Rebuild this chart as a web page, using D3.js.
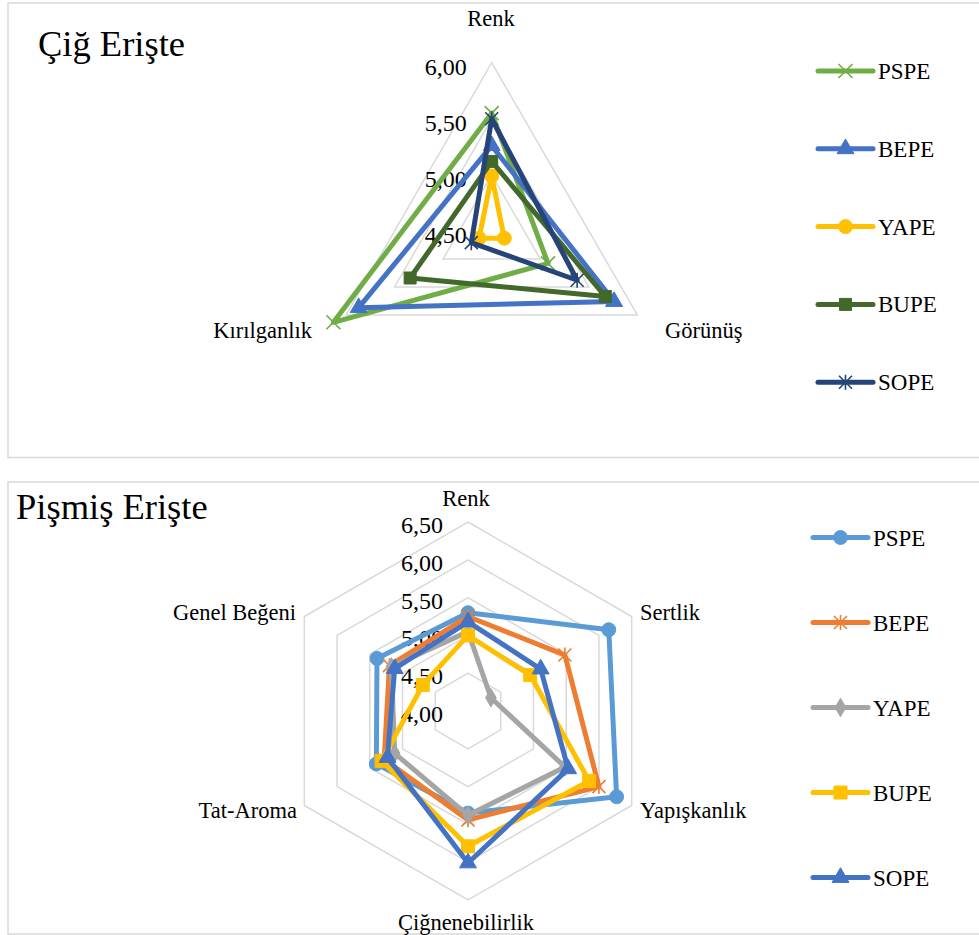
<!DOCTYPE html>
<html><head><meta charset="utf-8">
<script src="https://cdn.jsdelivr.net/npm/d3@7"></script>
<style>body{margin:0;background:#fff}svg{display:block}text{font-family:"Liberation Serif","Times New Roman",serif;fill:#000}</style>
</head><body>
<script>
// ---- Top chart: Çiğ Erişte ----
const rawTitle = "Çiğ Erişte";
const rawAxes = ["Renk", "Görünüş", "Kırılganlık"];
const rawSeries = ["PSPE", "BEPE", "YAPE", "BUPE", "SOPE"];
const rawPSPE = [5.55, 5.08, 6.13];
const rawBEPE = [5.26, 5.76, 5.87];
const rawYAPE = [4.99, 4.63, 4.63];
const rawBUPE = [5.12, 5.67, 5.34];
const rawSOPE = [5.50, 5.38, 4.71];
const rawTicks = [4.50, 5.00, 5.50, 6.00];

// ---- Bottom chart: Pişmiş Erişte ----
const cookTitle = "Pişmiş Erişte";
const cookAxes = ["Renk", "Sertlik", "Yapışkanlık", "Çiğnenebilirlik", "Tat-Aroma", "Genel Beğeni"];
const cookSeries = ["PSPE", "BEPE", "YAPE", "BUPE", "SOPE"];
const cookPSPE = [5.30, 6.15, 6.27, 5.35, 5.40, 5.39];
const cookBEPE = [5.25, 5.48, 6.00, 5.44, 5.28, 5.20];
const cookYAPE = [5.05, 4.35, 5.48, 5.38, 5.12, 5.17];
const cookBUPE = [5.00, 4.95, 5.85, 5.79, 5.32, 4.69];
const cookSOPE = [5.18, 5.11, 5.53, 6.01, 5.23, 5.12];
const cookTicks = [4.00, 4.50, 5.00, 5.50, 6.00, 6.50];

const W = 979, H = 935;
const svg = d3.select("body").append("svg").attr("width", W).attr("height", H);
const gridCol = "#d9d9d9";
const fmt = v => v.toFixed(2).replace(".", ",");

function markerPath(type, s) {
  const h = s / 2;
  if (type === "x") return `M${-h},${-h}L${h},${h}M${-h},${h}L${h},${-h}`;
  if (type === "star") return `M${-h},${-h}L${h},${h}M${-h},${h}L${h},${-h}M0,${-h * 1.15}L0,${h * 1.15}`;
  const sym = {circle: d3.symbolCircle, square: d3.symbolSquare, triangle: d3.symbolTriangle, diamond: d3.symbolDiamond}[type];
  return d3.symbol().type(sym).size(s * s * (type === "circle" ? 0.78 : type === "triangle" ? 0.55 : type === "diamond" ? 0.5 : 1))();
}
function drawMarker(g, type, color, s, x, y) {
  const open = type === "x" || type === "star";
  g.append("path").attr("d", markerPath(type, s))
    .attr("transform", `translate(${x},${y})`)
    .attr("fill", open ? "none" : color)
    .attr("stroke", color).attr("stroke-width", open ? 1.6 : 1);
}

function radar(opt) {
  const g = svg.append("g");
  g.append("rect").attr("x", opt.panel[0]).attr("y", opt.panel[1]).attr("width", opt.panel[2]).attr("height", opt.panel[3])
    .attr("fill", "none").attr("stroke", gridCol).attr("stroke-width", 1.5);
  g.append("text").attr("x", opt.titleX).attr("y", opt.titleY).attr("font-size", opt.titleSize).text(opt.title);

  const n = opt.axes.length;
  const r = d3.scaleLinear().domain([opt.ticks[0], opt.ticks[opt.ticks.length - 1]]).range([0, opt.R]);
  const ang = d3.scaleLinear().domain([0, n]).range([0, 2 * Math.PI]);
  const cg = g.append("g").attr("transform", `translate(${opt.cx},${opt.cy})`);
  const ringLine = d3.lineRadial().angle((d, i) => ang(i)).radius(d => r(d)).curve(d3.curveLinearClosed);

  opt.ticks.slice(1).forEach(t => {
    cg.append("path").attr("d", ringLine(d3.range(n).map(() => t)))
      .attr("fill", "none").attr("stroke", gridCol).attr("stroke-width", 1.5);
  });
  opt.ticks.forEach(t => {
    cg.append("text").attr("x", opt.tickX).attr("y", -r(t) + opt.tickDy)
      .attr("text-anchor", "end").attr("font-size", opt.tickSize).text(fmt(t));
  });
  opt.series.forEach((s, si) => {
    const vals = opt.values[si];
    cg.append("path").attr("d", ringLine(vals)).attr("fill", "none")
      .attr("stroke", opt.colors[si]).attr("stroke-width", opt.lw).attr("stroke-linejoin", "round");
    vals.forEach((v, i) => {
      const a = ang(i);
      drawMarker(cg, opt.markers[si], opt.colors[si], opt.msize[si], r(v) * Math.sin(a), -r(v) * Math.cos(a));
    });
  });
  opt.axes.forEach((a, i) => {
    const p = opt.labelPos[i];
    g.append("text").attr("x", p[0]).attr("y", p[1]).attr("text-anchor", p[2])
      .attr("font-size", opt.labelSize).text(a);
  });
  opt.series.forEach((s, si) => {
    const y = opt.legY0 + si * opt.legStep;
    g.append("line").attr("x1", opt.legX0).attr("x2", opt.legX1).attr("y1", y).attr("y2", y)
      .attr("stroke", opt.colors[si]).attr("stroke-width", opt.lw).attr("stroke-linecap", "round");
    drawMarker(g, opt.markers[si], opt.colors[si], opt.msize[si], (opt.legX0 + opt.legX1) / 2, y);
    g.append("text").attr("x", opt.legX1 + 5).attr("y", y + 8).attr("font-size", opt.legSize).text(s);
  });
}

radar({
  panel: [8, 3, 1000, 454.5], title: rawTitle, titleX: 38, titleY: 56, titleSize: 36.5,
  axes: rawAxes, series: rawSeries, values: [rawPSPE, rawBEPE, rawYAPE, rawBUPE, rawSOPE],
  ticks: rawTicks, cx: 491.7, cy: 230.9, R: 168.2,
  colors: ["#70ad47", "#4472c4", "#ffc000", "#43682b", "#264478"],
  markers: ["x", "triangle", "circle", "square", "star"], msize: [14, 15, 14, 12, 13],
  lw: 5, tickX: -25, tickDy: 12, tickSize: 24, labelSize: 22.5,
  labelPos: [[491, 26, "middle"], [665, 338, "start"], [312, 338, "end"]],
  legX0: 818, legX1: 873, legY0: 71, legStep: 77.8, legSize: 23
});

radar({
  panel: [8, 482, 1000, 452], title: cookTitle, titleX: 16, titleY: 519, titleSize: 36.5,
  axes: cookAxes, series: cookSeries, values: [cookPSPE, cookBEPE, cookYAPE, cookBUPE, cookSOPE],
  ticks: cookTicks, cx: 468, cy: 711, R: 189,
  colors: ["#5b9bd5", "#ed7d31", "#a5a5a5", "#ffc000", "#4472c4"],
  markers: ["circle", "star", "diamond", "square", "triangle"], msize: [14, 13, 14, 13, 15],
  lw: 5, tickX: -25, tickDy: 11, tickSize: 24, labelSize: 22.5,
  labelPos: [[466, 506, "middle"], [640, 620, "start"], [640, 818, "start"], [466, 930, "middle"], [297, 818, "end"], [296, 620, "end"]],
  legX0: 813, legX1: 868, legY0: 537.5, legStep: 85, legSize: 23
});
</script>
</body></html>
